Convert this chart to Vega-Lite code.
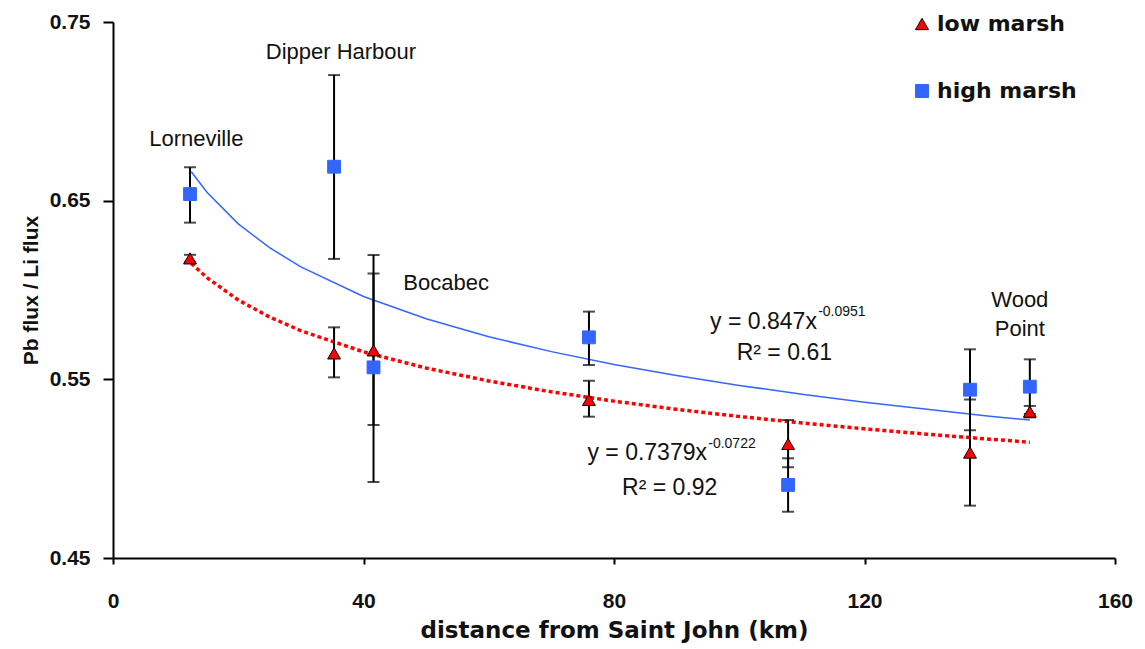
{
  "$schema": "https://vega.github.io/schema/vega-lite/v6.json",
  "width": 1002,
  "height": 536,
  "autosize": {"type": "none"},
  "padding": {"left": 113, "top": 22, "right": 30, "bottom": 91},
  "background": "white",
  "config": {
    "view": {"stroke": null},
    "font": "Liberation Sans",
    "axis": {
      "grid": false,
      "domainColor": "#000000",
      "domainWidth": 2,
      "tickColor": "#000000",
      "tickWidth": 2,
      "labelFont": "Liberation Sans",
      "labelFontWeight": "bold",
      "labelFontSize": 21,
      "labelColor": "#111111",
      "titleColor": "#111111"
    },
    "legend": {
      "padding": 0,
      "labelFont": "DejaVu Sans",
      "labelFontWeight": "bold",
      "labelFontSize": 22,
      "labelColor": "#111111",
      "labelOffset": 4,
      "symbolSize": 170,
      "symbolStrokeWidth": 1,
      "rowPadding": 45
    }
  },
  "datasets": {
    "points": [
      {"site": "Lorneville", "series": "low marsh", "x": 12.3, "y": 0.6177, "lo": 0.6157, "hi": 0.6197},
      {"site": "Lorneville", "series": "high marsh", "x": 12.3, "y": 0.6537, "lo": 0.6377, "hi": 0.6687},
      {"site": "Dipper Harbour", "series": "low marsh", "x": 35.3, "y": 0.5645, "lo": 0.5511, "hi": 0.5791},
      {"site": "Dipper Harbour", "series": "high marsh", "x": 35.3, "y": 0.669, "lo": 0.6174, "hi": 0.7203},
      {"site": "Bocabec", "series": "low marsh", "x": 41.6, "y": 0.5662, "lo": 0.5244, "hi": 0.6093},
      {"site": "Bocabec", "series": "high marsh", "x": 41.6, "y": 0.5567, "lo": 0.4925, "hi": 0.6196},
      {"site": "Site 4", "series": "low marsh", "x": 76.0, "y": 0.5385, "lo": 0.5291, "hi": 0.5492},
      {"site": "Site 4", "series": "high marsh", "x": 76.0, "y": 0.5735, "lo": 0.558, "hi": 0.5879},
      {"site": "Site 5", "series": "low marsh", "x": 107.8, "y": 0.5138, "lo": 0.5008, "hi": 0.5272},
      {"site": "Site 5", "series": "high marsh", "x": 107.8, "y": 0.4909, "lo": 0.4759, "hi": 0.5058},
      {"site": "Site 6", "series": "low marsh", "x": 136.85, "y": 0.509, "lo": 0.4793, "hi": 0.5387},
      {"site": "Site 6", "series": "high marsh", "x": 136.85, "y": 0.5442, "lo": 0.5215, "hi": 0.5668},
      {"site": "Wood Point", "series": "low marsh", "x": 146.4, "y": 0.5319, "lo": 0.5287, "hi": 0.5351},
      {"site": "Wood Point", "series": "high marsh", "x": 146.4, "y": 0.5459, "lo": 0.5306, "hi": 0.5612}
    ],
    "trendHigh": [
      {"x": 12.5, "y": 0.6662}, {"x": 15, "y": 0.6547}, {"x": 20, "y": 0.637}, {"x": 25, "y": 0.6237},
      {"x": 30, "y": 0.6129}, {"x": 40, "y": 0.5964}, {"x": 50, "y": 0.5839}, {"x": 60, "y": 0.5738},
      {"x": 70, "y": 0.5655}, {"x": 80, "y": 0.5583}, {"x": 90, "y": 0.5521}, {"x": 100, "y": 0.5466},
      {"x": 110, "y": 0.5417}, {"x": 120, "y": 0.5372}, {"x": 130, "y": 0.5332}, {"x": 140, "y": 0.5294},
      {"x": 146.4, "y": 0.5272}
    ],
    "trendLow": [
      {"x": 12.5, "y": 0.6149}, {"x": 15, "y": 0.6069}, {"x": 20, "y": 0.5944}, {"x": 25, "y": 0.5849},
      {"x": 30, "y": 0.5772}, {"x": 40, "y": 0.5654}, {"x": 50, "y": 0.5563}, {"x": 60, "y": 0.5491},
      {"x": 70, "y": 0.543}, {"x": 80, "y": 0.5378}, {"x": 90, "y": 0.5332}, {"x": 100, "y": 0.5292},
      {"x": 110, "y": 0.5256}, {"x": 120, "y": 0.5223}, {"x": 130, "y": 0.5193}, {"x": 140, "y": 0.5165},
      {"x": 146.4, "y": 0.5148}
    ],
    "sites": [
      {"x": 13.3, "y": 0.6845, "text": "Lorneville"},
      {"x": 36.4, "y": 0.7332, "text": "Dipper Harbour"},
      {"x": 53.2, "y": 0.6039, "text": "Bocabec"},
      {"x": 144.8, "y": 0.5944, "text": "Wood"},
      {"x": 144.8, "y": 0.5782, "text": "Point"}
    ],
    "eqMain": [
      {"x": 112.4, "y": 0.5821, "text": "y = 0.847x"},
      {"x": 94.85, "y": 0.5088, "text": "y = 0.7379x"}
    ],
    "eqSup": [
      {"x": 112.6, "y": 0.5877, "text": "-0.0951"},
      {"x": 95.05, "y": 0.5138, "text": "-0.0722"}
    ],
    "eqR2": [
      {"x": 107.2, "y": 0.5647, "text": "R² = 0.61"},
      {"x": 88.9, "y": 0.4892, "text": "R² = 0.92"}
    ]
  },
  "encoding": {
    "x": {
      "field": "x",
      "type": "quantitative",
      "scale": {"domain": [0, 160], "nice": false, "zero": false},
      "axis": {
        "values": [0, 40, 80, 120, 160],
        "title": "distance from Saint John (km)",
        "titleFont": "DejaVu Sans",
        "titleFontWeight": "bold",
        "titleFontSize": 23,
        "tickSize": 6,
        "labelFlush": false,
        "labelPadding": 26,
        "titlePadding": 8
      }
    },
    "y": {
      "field": "y",
      "type": "quantitative",
      "scale": {"domain": [0.45, 0.75], "nice": false, "zero": false},
      "axis": {
        "values": [0.45, 0.55, 0.65, 0.75],
        "format": ".2f",
        "title": "Pb flux / Li flux",
        "titleFont": "Liberation Sans",
        "titleFontWeight": "bold",
        "titleFontSize": 21,
        "tickSize": 10,
        "labelFlush": false,
        "labelPadding": 13,
        "titlePadding": 8
      }
    }
  },
  "layer": [
    {
      "data": {"name": "trendHigh"},
      "mark": {"type": "line", "color": "#3366FF", "strokeWidth": 1.5}
    },
    {
      "data": {"name": "trendLow"},
      "mark": {"type": "line", "color": "#FF0000", "strokeWidth": 3.5, "strokeDash": [4, 3]}
    },
    {
      "data": {"name": "points"},
      "mark": {"type": "rule", "color": "#000000", "strokeWidth": 2},
      "encoding": {
        "y": {"field": "lo", "type": "quantitative", "title": "Pb flux / Li flux"},
        "y2": {"field": "hi"}
      }
    },
    {
      "data": {"name": "points"},
      "mark": {"type": "tick", "color": "#000000", "orient": "horizontal", "size": 12, "thickness": 2},
      "encoding": {
        "y": {"field": "lo", "type": "quantitative", "title": "Pb flux / Li flux"}
      }
    },
    {
      "data": {"name": "points"},
      "mark": {"type": "tick", "color": "#000000", "orient": "horizontal", "size": 12, "thickness": 2},
      "encoding": {
        "y": {"field": "hi", "type": "quantitative", "title": "Pb flux / Li flux"}
      }
    },
    {
      "data": {"name": "points"},
      "mark": {"type": "point", "filled": true, "opacity": 1, "strokeWidth": 1, "size": 165},
      "encoding": {
        "shape": {
          "field": "series", "type": "nominal",
          "scale": {"domain": ["low marsh", "high marsh"], "range": ["triangle-up", "square"]},
          "legend": {"title": null, "orient": "none", "legendX": 798, "legendY": -9}
        },
        "fill": {
          "field": "series", "type": "nominal",
          "scale": {"domain": ["low marsh", "high marsh"], "range": ["#FF0000", "#3366FF"]},
          "legend": {"title": null, "orient": "none", "legendX": 798, "legendY": -9}
        },
        "stroke": {
          "field": "series", "type": "nominal",
          "scale": {"domain": ["low marsh", "high marsh"], "range": ["#000000", "#3366FF"]},
          "legend": {"title": null, "orient": "none", "legendX": 798, "legendY": -9}
        }
      }
    },
    {
      "data": {"name": "sites"},
      "mark": {"type": "text", "align": "center", "baseline": "middle", "font": "Liberation Sans", "fontSize": 22, "color": "#111111"},
      "encoding": {"text": {"field": "text"}}
    },
    {
      "data": {"name": "eqMain"},
      "mark": {"type": "text", "align": "right", "baseline": "middle", "font": "Liberation Sans", "fontSize": 23, "color": "#111111"},
      "encoding": {"text": {"field": "text"}}
    },
    {
      "data": {"name": "eqSup"},
      "mark": {"type": "text", "align": "left", "baseline": "middle", "font": "Liberation Sans", "fontSize": 14, "color": "#111111"},
      "encoding": {"text": {"field": "text"}}
    },
    {
      "data": {"name": "eqR2"},
      "mark": {"type": "text", "align": "center", "baseline": "middle", "font": "Liberation Sans", "fontSize": 23, "color": "#111111"},
      "encoding": {"text": {"field": "text"}}
    }
  ]
}
